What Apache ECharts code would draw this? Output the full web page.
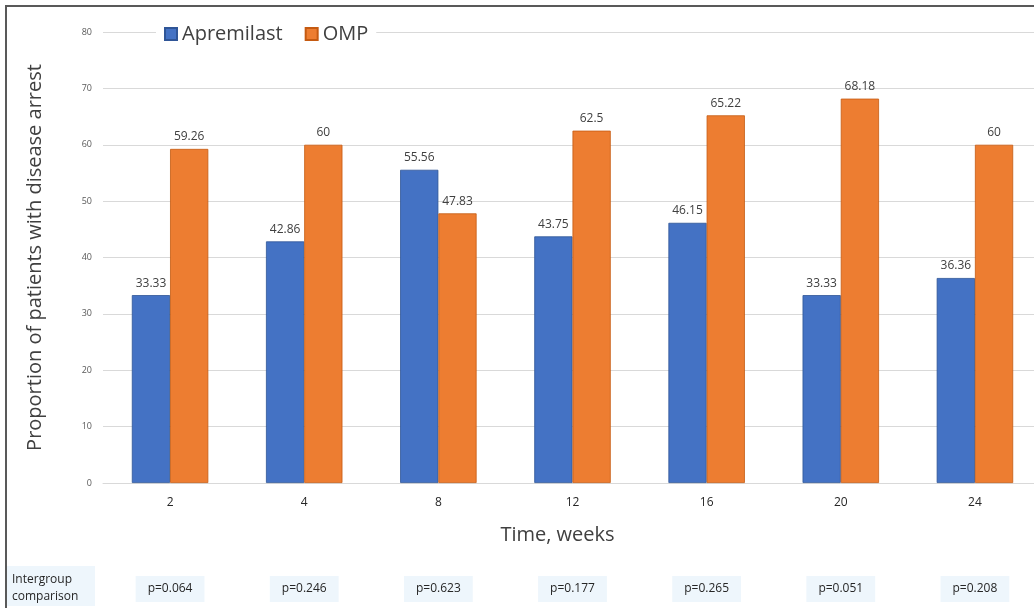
<!DOCTYPE html>
<html>
<head>
<meta charset="utf-8">
<script src="https://cdn.jsdelivr.net/npm/echarts@6/dist/echarts.min.js"></script>
<style>
  html, body { margin: 0; padding: 0; background: #fff; }
  #chart { width: 1034px; height: 608px; }
</style>
</head>
<body>
<div id="chart"></div>
<script>
// weeks on the x axis
var weeks = ['2', '4', '8', '12', '16', '20', '24'];
// proportion of patients with disease arrest, %
var apremilast = [33.33, 42.86, 55.56, 43.75, 46.15, 33.33, 36.36];
var omp = [59.26, 60, 47.83, 62.5, 65.22, 68.18, 60];
// intergroup comparison p-values under each week
var pValues = ['p=0.064', 'p=0.246', 'p=0.623', 'p=0.177', 'p=0.265', 'p=0.051', 'p=0.208'];

var font = '"Open Sans", "Noto Sans", sans-serif';
var chart = echarts.init(document.getElementById('chart'));

var barLabel = {
    show: true,
    position: 'top',
    distance: 6,
    fontSize: 12,
    fontFamily: font,
    color: '#404040'
};

chart.setOption({
    animation: false,
    textStyle: { fontFamily: font },
    // plot runs a little past the right edge of the picture
    grid: { left: 103, width: 939, top: 32, bottom: 125, containLabel: false, outerBoundsMode: 'none' },
    legend: {
        left: 156,
        top: 22,
        padding: [2, 8],
        itemWidth: 12,
        itemHeight: 12,
        itemGap: 22,
        icon: 'rect',
        backgroundColor: '#fff',
        textStyle: { fontSize: 20, color: '#404040', fontFamily: font },
        data: ['Apremilast', 'OMP']
    },
    xAxis: [{
        type: 'category',
        data: weeks,
        axisLine: { lineStyle: { color: '#d9d9d9' } },
        axisTick: { show: false },
        axisLabel: { fontSize: 12, color: '#262626', margin: 14 },
        name: 'Time, weeks',
        nameLocation: 'middle',
        nameGap: 42,
        nameTextStyle: { fontSize: 20, color: '#404040', padding: [0, 30, 0, 0] }
    }, {
        type: 'category',
        data: pValues,
        position: 'bottom',
        offset: 93,
        axisLine: { show: false },
        axisTick: { show: false },
        axisLabel: {
            fontSize: 12,
            color: '#262626',
            margin: 0,
            backgroundColor: '#eef6fc',
            padding: [7, 12, 7, 12]
        }
    }],
    yAxis: {
        type: 'value',
        min: 0,
        max: 80,
        interval: 10,
        axisLine: { show: false },
        axisTick: { show: false },
        axisLabel: { fontSize: 9, color: '#595959', margin: 11 },
        splitLine: { lineStyle: { color: '#d9d9d9' } },
        name: 'Proportion of patients with disease arrest',
        nameLocation: 'middle',
        nameGap: 58,
        nameTextStyle: { fontSize: 20, color: '#404040' }
    },
    series: [{
        name: 'Apremilast',
        type: 'bar',
        data: apremilast,
        barGap: '0%',
        barCategoryGap: '43%',
        itemStyle: { color: '#4472c4', borderColor: '#2f5597', borderWidth: 0.8 },
        label: barLabel
    }, {
        name: 'OMP',
        type: 'bar',
        data: omp,
        itemStyle: { color: '#ed7d31', borderColor: '#c55a11', borderWidth: 0.8 },
        label: barLabel
    }],
    graphic: [{
        type: 'rect',
        shape: { x: 6, y: 6, width: 1100, height: 700 },
        style: { fill: 'none', stroke: '#595959', lineWidth: 2 },
        silent: true
    }, {
        type: 'rect',
        shape: { x: 7, y: 566, width: 88, height: 40 },
        style: { fill: '#eef6fc' },
        silent: true
    }, {
        type: 'text',
        x: 12,
        y: 571,
        style: {
            text: 'Intergroup\ncomparison',
            fontSize: 12,
            lineHeight: 17,
            fontFamily: font,
            fill: '#262626'
        },
        silent: true
    }]
});

window.addEventListener('resize', function () {
    chart.resize();
});
</script>
</body>
</html>
